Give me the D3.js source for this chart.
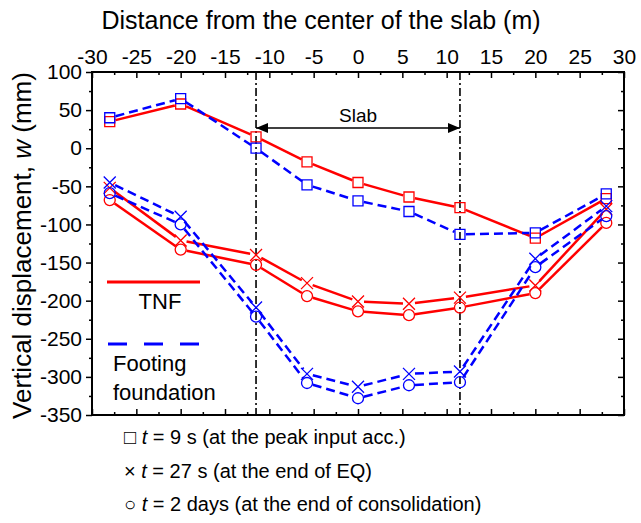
<!DOCTYPE html>
<html>
<head>
<meta charset="utf-8">
<script src="https://cdn.jsdelivr.net/npm/d3@7"></script>
<style>
  body { margin: 0; background: #fff; }
  text { font-family: "Liberation Sans", Arial, "DejaVu Sans", sans-serif; fill: #000; }
</style>
</head>
<body>
<figure id="slabChart" style="margin:0"></figure>
<script>
// distance from slab centre (m)
const xPos = [-28, -20, -11.5, -5.75, 0, 5.75, 11.5, 20, 28];
// vertical displacement (mm), TNF
const tnf9s = [35, 58, 15, -18, -45, -64, -78, -118, -66];
const tnf27s = [-52, -121, -140, -177, -201, -204, -196, -180, -80];
const tnf2d = [-68, -133, -153, -194, -214, -219, -209, -190, -98];
// vertical displacement (mm), footing foundation
const foot9s = [40, 65, 0, -48, -69, -83, -113, -111, -60];
const foot27s = [-45, -90, -209, -296, -313, -296, -293, -145, -76];
const foot2d = [-59, -100, -221, -308, -328, -311, -307, -156, -89];

const xTicks = d3.range(-30, 31, 5);
const yTicks = d3.range(-350, 101, 50);
const slabEdges = [-11.5, 11.5];

// set the dimensions and margins of the graph
var margin = {top: 72, right: 17, bottom: 108, left: 92},
    width = 641 - margin.left - margin.right,
    height = 523 - margin.top - margin.bottom;

let svg = d3.select("figure#slabChart")
  .append("svg")
  .attr("width", width + margin.left + margin.right)
  .attr("height", height + margin.top + margin.bottom);

let g = svg.append("g")
  .attr("transform", "translate(" + margin.left + "," + margin.top + ")");

var x = d3.scaleLinear().domain([-30, 30]).range([0, width]);
var y = d3.scaleLinear().domain([-350, 100]).range([height, 0]);

const fmt = d => String(d);

// top axis (labels), ticks pointing in
g.append("g")
  .attr("class", "axis")
  .call(d3.axisTop(x).tickValues(xTicks).tickFormat(fmt).tickSizeInner(-6).tickSizeOuter(0).tickPadding(8));
g.append("g")
  .attr("class", "axis")
  .call(d3.axisTop(x).tickValues(d3.range(-27.5, 30, 5)).tickFormat("").tickSize(-3));

// bottom axis, no labels
g.append("g")
  .attr("class", "axis")
  .attr("transform", "translate(0," + height + ")")
  .call(d3.axisBottom(x).tickValues(xTicks).tickFormat("").tickSize(-6));
g.append("g")
  .attr("class", "axis")
  .attr("transform", "translate(0," + height + ")")
  .call(d3.axisBottom(x).tickValues(d3.range(-27.5, 30, 5)).tickFormat("").tickSize(-3));

// left axis, ticks out
g.append("g")
  .attr("class", "axis")
  .call(d3.axisLeft(y).tickValues(yTicks).tickFormat(fmt).tickSizeInner(6).tickSizeOuter(0).tickPadding(4));
g.append("g")
  .attr("class", "axis")
  .call(d3.axisLeft(y).tickValues(d3.range(-325, 100, 50)).tickFormat("").tickSize(3));

// right axis, ticks in
g.append("g")
  .attr("class", "axis")
  .attr("transform", "translate(" + width + ",0)")
  .call(d3.axisRight(y).tickValues(yTicks).tickFormat("").tickSize(-6));
g.append("g")
  .attr("class", "axis")
  .attr("transform", "translate(" + width + ",0)")
  .call(d3.axisRight(y).tickValues(d3.range(-325, 100, 50)).tickFormat("").tickSize(-3));

g.selectAll(".axis .domain").remove();
g.selectAll(".axis line").attr("stroke", "#000").attr("stroke-width", 1.5);
g.selectAll(".axis text").style("font-size", "21px").attr("fill", "#000");

// frame
g.append("rect")
  .attr("width", width).attr("height", height)
  .attr("fill", "none").attr("stroke", "#000").attr("stroke-width", 2);

// axis titles
svg.append("text")
  .attr("x", 321).attr("y", 29)
  .attr("text-anchor", "middle").style("font-size", "25px")
  .text("Distance from the center of the slab (m)");

let yt = svg.append("text")
  .attr("transform", "translate(31," + (margin.top + height / 2 + 2) + ") rotate(-90)")
  .attr("text-anchor", "middle").style("font-size", "26px");
yt.append("tspan").text("Vertical displacement, ");
yt.append("tspan").style("font-style", "italic").text("w");
yt.append("tspan").text(" (mm)");

// slab edges, dash-dot
g.selectAll("line.edge")
  .data(slabEdges)
  .enter().append("line")
  .attr("class", "edge")
  .attr("x1", d => x(d)).attr("x2", d => x(d))
  .attr("y1", 0).attr("y2", height)
  .attr("stroke", "#000").attr("stroke-width", 1.6)
  .attr("stroke-dasharray", "8,3,2,3");

// slab arrow
svg.append("defs").selectAll("marker")
  .data(["arrowEnd", "arrowStart"])
  .enter().append("marker")
  .attr("id", d => d)
  .attr("viewBox", "0 0 12 10")
  .attr("refX", 12).attr("refY", 5)
  .attr("markerWidth", 12).attr("markerHeight", 10)
  .attr("markerUnits", "userSpaceOnUse")
  .attr("orient", d => d == "arrowEnd" ? "auto" : "auto-start-reverse")
  .append("path").attr("d", "M0,0 L12,5 L0,10 Z").attr("fill", "#000");

g.append("line")
  .attr("x1", x(slabEdges[0])).attr("x2", x(slabEdges[1]))
  .attr("y1", 56).attr("y2", 56)
  .attr("stroke", "#000").attr("stroke-width", 1.3)
  .attr("marker-start", "url(#arrowStart)")
  .attr("marker-end", "url(#arrowEnd)");
g.append("text")
  .attr("x", x(0)).attr("y", 50)
  .attr("text-anchor", "middle").style("font-size", "19px")
  .text("Slab");

// series: red solid = TNF, blue dashed = footing foundation
const series = [
  {vals: tnf9s, color: "#ff0000", dash: null, mark: "square"},
  {vals: tnf27s, color: "#ff0000", dash: null, mark: "cross"},
  {vals: tnf2d, color: "#ff0000", dash: null, mark: "circle"},
  {vals: foot9s, color: "#0000ff", dash: "9,5", mark: "square"},
  {vals: foot27s, color: "#0000ff", dash: "9,5", mark: "cross"},
  {vals: foot2d, color: "#0000ff", dash: "9,5", mark: "circle"}
];

// line segments stop a little short of the symbols
const gap = 6;
function segments(vals) {
  let segs = [];
  for (let i = 0; i < vals.length - 1; i++) {
    let x0 = x(xPos[i]), y0 = y(vals[i]), x1 = x(xPos[i + 1]), y1 = y(vals[i + 1]);
    let len = Math.hypot(x1 - x0, y1 - y0);
    let ux = (x1 - x0) / len, uy = (y1 - y0) / len;
    segs.push([x0 + ux * gap, y0 + uy * gap, x1 - ux * gap, y1 - uy * gap]);
  }
  return segs;
}

function markPath(kind, px, py) {
  if (kind == "square") return "M" + (px - 5) + "," + (py - 5) + "h10v10h-10Z";
  if (kind == "cross") return "M" + (px - 6) + "," + (py - 6) + "L" + (px + 6) + "," + (py + 6) +
    "M" + (px + 6) + "," + (py - 6) + "L" + (px - 6) + "," + (py + 6);
  return "M" + (px - 5.5) + "," + py + "a5.5,5.5 0 1,0 11,0a5.5,5.5 0 1,0 -11,0";
}

series.forEach(function(s) {
  let sg = g.append("g");
  sg.selectAll("line")
    .data(segments(s.vals))
    .enter().append("line")
    .attr("x1", d => d[0]).attr("y1", d => d[1])
    .attr("x2", d => d[2]).attr("y2", d => d[3])
    .attr("stroke", s.color).attr("stroke-width", 2.5)
    .attr("stroke-dasharray", s.dash);
  sg.selectAll("path")
    .data(s.vals)
    .enter().append("path")
    .attr("d", (d, i) => markPath(s.mark, x(xPos[i]), y(d)))
    .attr("fill", "none").attr("stroke", s.color).attr("stroke-width", 1.3);
});

// legend inside the plot
g.append("line")
  .attr("x1", 15).attr("x2", 108).attr("y1", 210).attr("y2", 210)
  .attr("stroke", "#ff0000").attr("stroke-width", 3);
g.append("text")
  .attr("x", 68).attr("y", 237).attr("text-anchor", "middle")
  .style("font-size", "22px").text("TNF");
g.append("line")
  .attr("x1", 16).attr("x2", 107).attr("y1", 272).attr("y2", 272)
  .attr("stroke", "#0000ff").attr("stroke-width", 3)
  .attr("stroke-dasharray", "19,17");
g.append("text")
  .attr("x", 21).attr("y", 299)
  .style("font-size", "22px").text("Footing");
g.append("text")
  .attr("x", 21).attr("y", 328)
  .style("font-size", "22px").text("foundation");

// time legend below the plot
const timeSymbols = ["\u25A1", "\u00D7", "\u25CB"];
const timeValues = ["9 s", "27 s", "2 days"];
const timeNotes = ["(at the peak input acc.)", "(at the end of EQ)", "(at the end of consolidation)"];

timeSymbols.forEach(function(sym, i) {
  let t = svg.append("text")
    .attr("x", 124).attr("y", 444 + i * 33.5)
    .style("font-size", "20px");
  t.append("tspan").text(sym + " ");
  t.append("tspan").style("font-style", "italic").text("t");
  t.append("tspan").text(" = " + timeValues[i] + " " + timeNotes[i]);
});
</script>
</body>
</html>
